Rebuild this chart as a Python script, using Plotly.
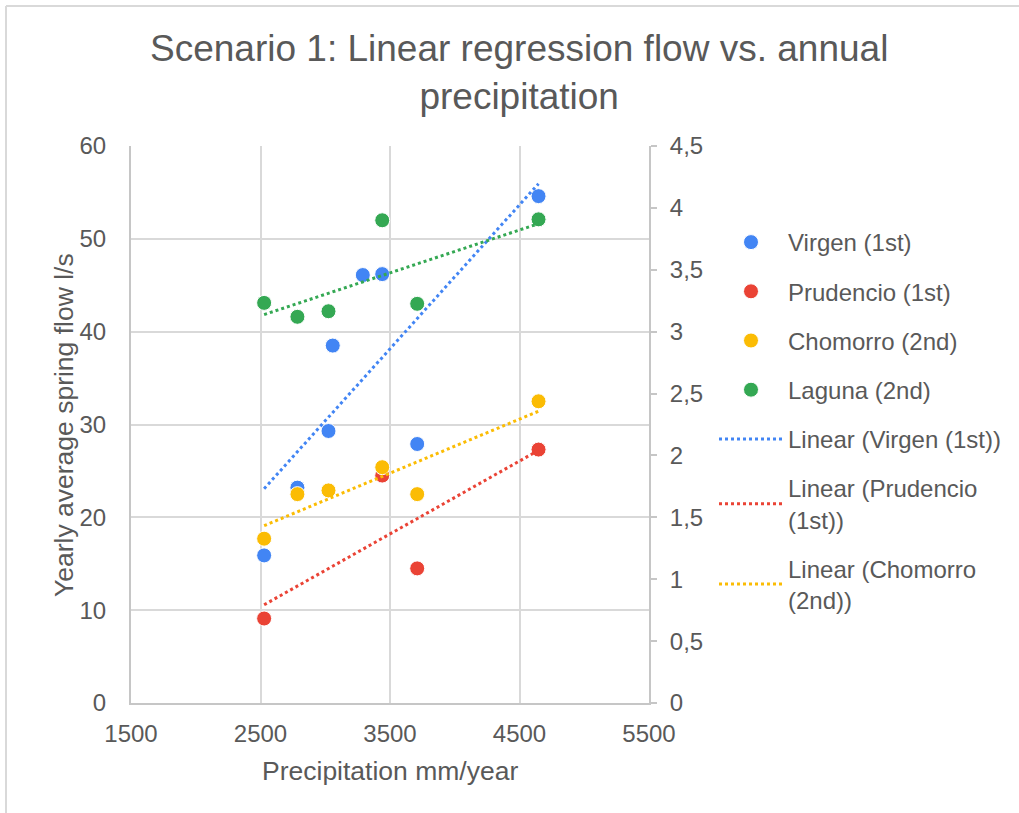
import numpy as np
import plotly.graph_objects as go

# ---- data ----
precip = [2528, 2785, 3025, 3058, 3290, 3440, 3710, 4647]
virgen = [15.9, 23.2, 29.3, 38.5, 46.1, 46.2, 27.9, 54.6]
prudencio = [9.1, None, None, None, None, 24.5, 14.5, 27.3]
chomorro = [17.7, 22.5, 22.9, None, None, 25.4, 22.5, 32.5]
laguna = [43.1, 41.6, 42.2, None, None, 52.0, 43.0, 52.1]

series_names = ["Virgen (1st)", "Prudencio (1st)", "Chomorro (2nd)", "Laguna (2nd)"]
trend_names = ["Linear (Virgen (1st))", "Linear (Prudencio<br>(1st))",
               "Linear (Chomorro<br>(2nd))", "Linear (Laguna (2nd))"]
colors = ["#4285F4", "#EA4335", "#FBBC04", "#34A853"]
all_series = [virgen, prudencio, chomorro, laguna]

x_ticks = [1500, 2500, 3500, 4500, 5500]
y_ticks = [0, 10, 20, 30, 40, 50, 60]
y2_ticks = [0, 0.5, 1, 1.5, 2, 2.5, 3, 3.5, 4, 4.5]
y2_labels = ["0", "0,5", "1", "1,5", "2", "2,5", "3", "3,5", "4", "4,5"]

W, H = 1019, 813
L, R, T, B = 131, 370, 146, 110
pw, ph = W - L - R, H - T - B

def px_x(p):
    return (p - L) / pw

def px_y(p):
    return (H - B - p) / ph

TXT = "#595959"
GRID = "#d9d9d9"
AXL = "#c6c6c6"
FONT = "Liberation Sans, Arial, sans-serif"

fig = go.Figure()

pairs = []
for name, col, ys in zip(series_names, colors, all_series):
    xs = [x for x, y in zip(precip, ys) if y is not None]
    yv = [y for y in ys if y is not None]
    pairs.append((xs, yv))
    fig.add_trace(go.Scatter(
        x=xs, y=yv, mode="markers", name=name,
        marker=dict(color=col, size=15, line=dict(width=1, color="white")),
        legendgroup=name,
    ))

for i, (tname, col) in enumerate(zip(trend_names, colors)):
    xs, yv = pairs[i]
    k, b = np.polyfit(xs, yv, 1)
    xl = [min(xs), max(xs)]
    fig.add_trace(go.Scatter(
        x=xl, y=[k * v + b for v in xl], mode="lines", name=tname,
        line=dict(color=col, width=3, dash="dot"),
        showlegend=(i < 3), legendgroup=tname,
    ))

fig.update_layout(
    width=W, height=H,
    margin=dict(l=L, r=R, t=T, b=B),
    paper_bgcolor="white", plot_bgcolor="white",
    font=dict(family=FONT, color=TXT, size=24),
    xaxis=dict(range=[1500, 5500], tickvals=x_ticks, showgrid=True, gridcolor=GRID,
               gridwidth=2, zeroline=False, showline=True, linecolor=AXL, linewidth=2,
               ticks="", ticklabelstandoff=8, tickfont=dict(size=24, color=TXT)),
    yaxis=dict(range=[0, 60], tickvals=y_ticks, showgrid=True, gridcolor=GRID,
               gridwidth=2, zeroline=False, showline=True, linecolor=AXL, linewidth=2,
               ticks="", ticklabelstandoff=18, tickfont=dict(size=24, color=TXT)),
    yaxis2=dict(range=[0, 4.5], tickvals=y2_ticks, ticktext=y2_labels, overlaying="y",
                side="right", showgrid=False, zeroline=False, showline=True,
                linecolor=AXL, linewidth=2, ticks="outside", ticklen=6, tickwidth=2,
                tickcolor=AXL, ticklabelstandoff=8, tickfont=dict(size=24, color=TXT)),
    legend=dict(x=px_x(714), xanchor="left", y=px_y(220), yanchor="top",
                font=dict(size=24, color=TXT, family=FONT), itemwidth=64,
                tracegroupgap=15, bgcolor="rgba(0,0,0,0)"),
    showlegend=True,
)

# y2 axis needs a trace to be drawn
fig.add_trace(go.Scatter(x=[None], y=[None], yaxis="y2", showlegend=False,
                         hoverinfo="skip", mode="markers"))

fig.add_annotation(text="Scenario 1: Linear regression flow vs. annual<br>precipitation",
                   x=px_x(519), y=px_y(72), xref="paper", yref="paper",
                   xanchor="center", yanchor="middle", showarrow=False,
                   font=dict(size=37, color=TXT, family=FONT))
fig.add_annotation(text="Yearly average spring flow l/s", textangle=-90,
                   x=px_x(64), y=px_y(425), xref="paper", yref="paper",
                   xanchor="center", yanchor="middle",
                   showarrow=False, font=dict(size=26.5, color=TXT, family=FONT))
fig.add_annotation(text="Precipitation mm/year",
                   x=px_x(390), y=px_y(771), xref="paper", yref="paper",
                   xanchor="center", yanchor="middle",
                   showarrow=False, font=dict(size=26.5, color=TXT, family=FONT))

# outer chart border (top and left edges visible)
fig.add_shape(type="line", xref="paper", yref="paper",
              x0=px_x(6), x1=px_x(1019), y0=px_y(6), y1=px_y(6),
              line=dict(color=GRID, width=2))
fig.add_shape(type="line", xref="paper", yref="paper",
              x0=px_x(6), x1=px_x(6), y0=px_y(6), y1=px_y(813),
              line=dict(color=GRID, width=2))

fig.write_html("out.html")
